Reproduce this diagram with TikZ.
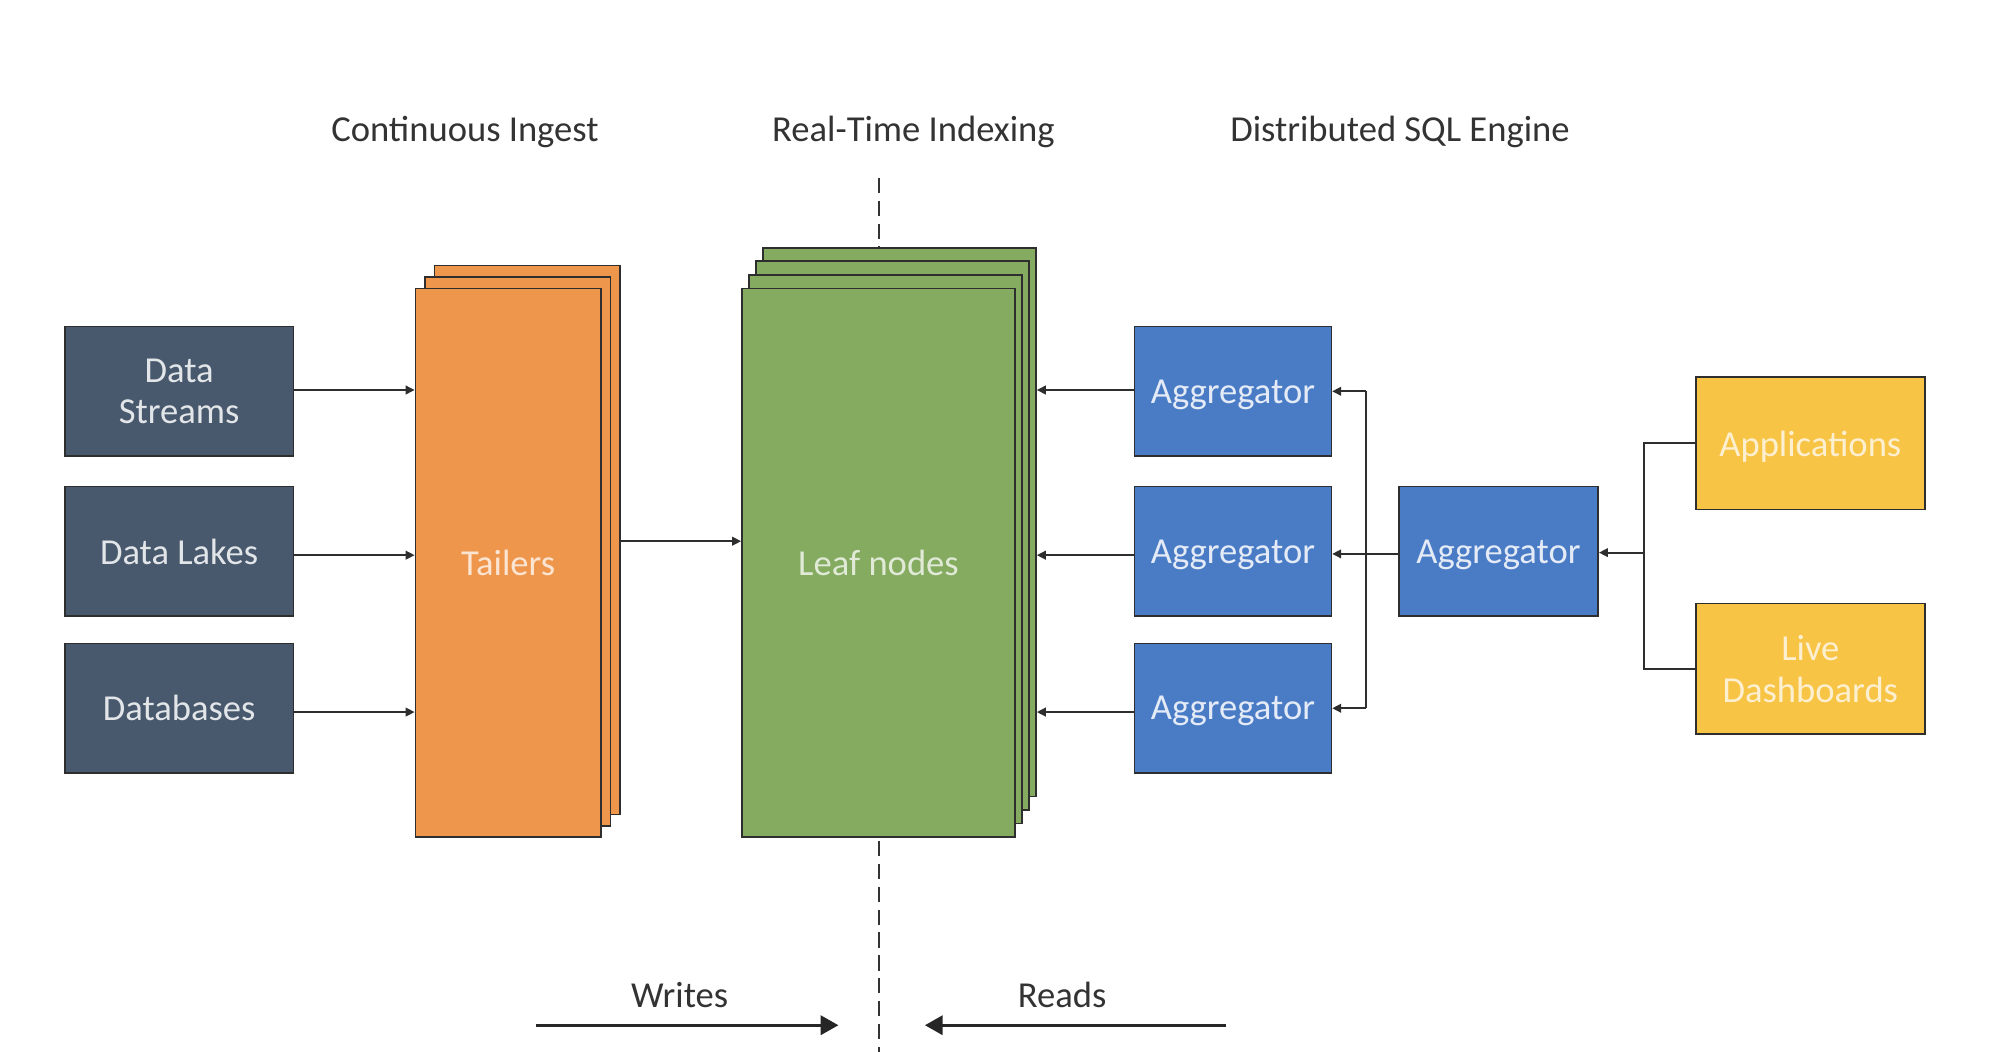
\documentclass[tikz,border=0pt]{standalone}
\usepackage{fontspec}
\setmainfont{Carlito}
\usetikzlibrary{arrows.meta}
\definecolor{slatefill}{HTML}{48586D}
\definecolor{orangefill}{HTML}{EF964D}
\definecolor{greenfill}{HTML}{84AB5F}
\definecolor{bluefill}{HTML}{4A7CC6}
\definecolor{yellowfill}{HTML}{F8C446}
\definecolor{edge}{HTML}{2E2E2E}
\definecolor{headtext}{HTML}{333333}
\begin{document}
\begin{tikzpicture}[x=0.5pt,y=-0.5pt,
  lbl/.style={font=\fontsize{14.4pt}{16.5pt}\selectfont, align=center},
  boxbase/.style={lbl, draw=edge, line width=0.65pt, inner sep=0pt, text depth=0pt},
  srcbox/.style={boxbase, fill=slatefill, text=white!85!slatefill, minimum width=90pt, minimum height=51pt},
  aggbox/.style={boxbase, fill=bluefill, text=white!85!bluefill, minimum width=77.5pt, minimum height=51pt},
  appbox/.style={boxbase, fill=yellowfill, text=white!75!yellowfill, minimum width=90pt, minimum height=52pt},
  tailbox/.style={boxbase, fill=orangefill, text=white!75!orangefill, minimum width=73pt, minimum height=216pt},
  leafbox/.style={boxbase, fill=greenfill, text=white!75!greenfill, minimum width=107.5pt, minimum height=216pt},
  header/.style={font=\fontsize{14.4pt}{16.5pt}\selectfont, text=headtext, anchor=base, inner sep=0pt},
  conn/.style={draw=edge, line width=0.7pt},
  arr/.style={conn, -{Triangle[length=3.5pt,width=3.4pt]}},
  bigarr/.style={draw=black!85, line width=1.3pt, -{Triangle[length=7pt,width=7.5pt]}}
]
\useasboundingbox (0,0) rectangle (1568,828);

% headers
\node[header] (h1) at (366,111) {Continuous Ingest};
\node[header] (h2) at (719,111) {Real-Time Indexing};
\node[header] (h3) at (1102,111) {Distributed SQL Engine};

% dashed divider
\coordinate (dtop) at (692,140);
\coordinate (dbot) at (692,828);
\draw[draw=black!80, line width=0.6pt, dash pattern=on 6pt off 3pt] (dtop) -- (dbot);

% sources
\node[srcbox] (ds) at (141,308) {Data\\Streams};
\node[srcbox] (dl) at (141,434) {Data Lakes};
\node[srcbox] (db) at (141,557.5) {Databases};

% tailers stack
\node[tailbox] (t3) at (415,425) {};
\node[tailbox] (t2) at (407.5,434) {};
\node[tailbox] (t1) at (400,443) {Tailers};

% leaf stack
\node[leafbox] (l4) at (708,411) {};
\node[leafbox] (l3) at (702.5,421.7) {};
\node[leafbox] (l2) at (697,432.3) {};
\node[leafbox] (l1) at (691.5,443) {Leaf nodes};

% aggregators
\node[aggbox] (a1) at (970.5,308) {Aggregator};
\node[aggbox] (a2) at (970.5,434) {Aggregator};
\node[aggbox] (a3) at (970.5,557.5) {Aggregator};
\node[aggbox, minimum width=78.5pt] (m) at (1179.5,434) {Aggregator};

% consumers
\node[appbox] (app) at (1425,349) {Applications};
\node[appbox, minimum height=51.5pt] (live) at (1425,526.5) {Live\\Dashboards};

% source -> tailers
\draw[arr] ([yshift=0.5pt]ds.east) -- ([yshift=0.5pt]ds.east -| t1.west);
\draw[arr] ([yshift=-1.5pt]dl.east) -- ([yshift=-1.5pt]dl.east -| t1.west);
\draw[arr] ([yshift=-1.5pt]db.east) -- ([yshift=-1.5pt]db.east -| t1.west);

% tailers -> leaf
\coordinate (tl) at (488,426);
\draw[arr] (tl -| t3.east) -- (tl -| l1.west);

% aggregators -> leaf
\draw[arr] ([yshift=0.5pt]a1.west) -- ([yshift=0.5pt]a1.west -| l4.east);
\draw[arr] ([yshift=-1.5pt]a2.west) -- ([yshift=-1.5pt]a2.west -| l4.east);
\draw[arr] ([yshift=-1.5pt]a3.west) -- ([yshift=-1.5pt]a3.west -| l4.east);

% middle aggregator -> aggregators
\coordinate (busx) at (1075,0);
\draw[arr] ([yshift=-1pt]m.west) -- ([yshift=-1pt]m.west -| a2.east);
\draw[arr] (a1.east -| busx) -- (a1.east);
\draw[arr] (a3.east -| busx) -- (a3.east);
\draw[conn] (a1.east -| busx) -- (a3.east -| busx);

% consumers -> middle aggregator
\coordinate (rbus) at (1294,0);
\draw[conn] (app.west) -- (app.west -| rbus) -- (live.west -| rbus) -- (live.west);
\draw[arr] ([yshift=-0.5pt]m.east -| rbus) -- ([yshift=-0.5pt]m.east);

% writes / reads
\node[header] (wt) at (535,793) {Writes};
\node[header] (rd) at (836,793) {Reads};
\coordinate (w1) at (422,807);
\coordinate (w2) at (660,807);
\coordinate (r1) at (965,807);
\coordinate (r2) at (728,807);
\draw[bigarr] (w1) -- (w2);
\draw[bigarr] (r1) -- (r2);
\end{tikzpicture}
\end{document}
